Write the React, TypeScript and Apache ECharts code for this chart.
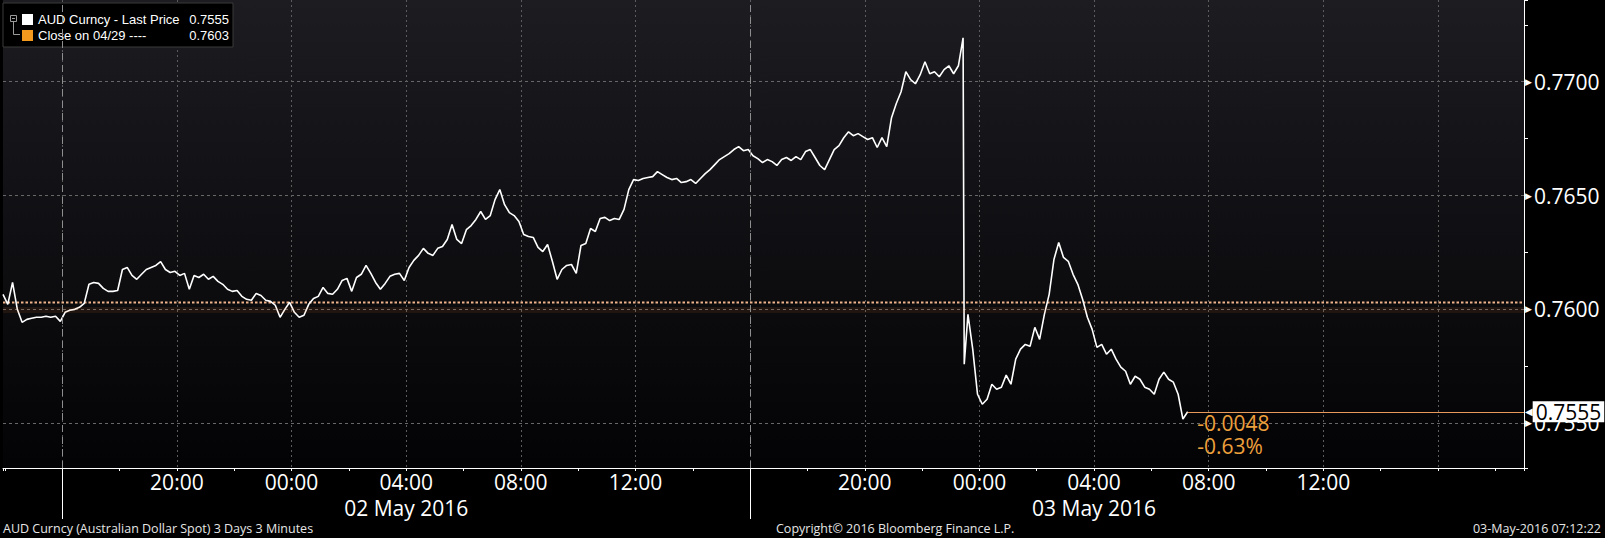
import React, { useEffect, useRef } from 'react';
import * as echarts from 'echarts';

const FONT = "'Open Sans', 'DejaVu Sans', sans-serif";

const seriesName = 'AUD Curncy - Last Price';
const closeName = 'Close on 04/29 ----';
const closePrice = 0.7603;
const lastPrice = 0.7555;
const netChangeText = '-0.0048';
const pctChangeText = '-0.63%';

// time = hours since 01 May 2016 00:00 (chart local time)
const xMinHour = 13 + 56 / 60;
const xMaxHour = 67;
const sampleStepHours = 10 / 60;

const preDropStartHour = 13 + 56 / 60;
const preDropPrices = [
  0.76066, 0.76022, 0.76118, 0.76000, 0.75943, 0.75956, 0.75961, 0.75965, 0.75965, 0.75970,
  0.75965, 0.75970, 0.75947, 0.75987, 0.75996, 0.76000, 0.76009, 0.76026, 0.76110, 0.76118,
  0.76114, 0.76092, 0.76079, 0.76079, 0.76083, 0.76175, 0.76184, 0.76149, 0.76132, 0.76154,
  0.76175, 0.76184, 0.76193, 0.76210, 0.76175, 0.76162, 0.76167, 0.76149, 0.76158, 0.76088,
  0.76149, 0.76140, 0.76154, 0.76132, 0.76145, 0.76123, 0.76110, 0.76088, 0.76079, 0.76083,
  0.76057, 0.76044, 0.76040, 0.76070, 0.76061, 0.76040, 0.76035, 0.76018, 0.75965, 0.76000,
  0.76031, 0.75987, 0.75965, 0.75974,
  0.76022, 0.76048, 0.76057, 0.76096, 0.76070, 0.76066, 0.76088, 0.76127, 0.76136, 0.76079,
  0.76140, 0.76154, 0.76193, 0.76158, 0.76118, 0.76088, 0.76114, 0.76145, 0.76154, 0.76158,
  0.76127, 0.76184, 0.76215, 0.76237, 0.76268, 0.76246, 0.76237, 0.76268, 0.76276, 0.76307,
  0.76373, 0.76307, 0.76289, 0.76350, 0.76368, 0.76395, 0.76430, 0.76395, 0.76412, 0.76482,
  0.76526, 0.76460, 0.76425, 0.76412, 0.76386, 0.76329, 0.76320, 0.76316, 0.76272, 0.76254,
  0.76285, 0.76211, 0.76132, 0.76175, 0.76193, 0.76197, 0.76158, 0.76281, 0.76289, 0.76355,
  0.76342, 0.76399, 0.76404, 0.76390, 0.76399, 0.76395, 0.76439, 0.76526, 0.76570, 0.76566,
  0.76575, 0.76579,
  0.76583, 0.76605, 0.76592, 0.76579, 0.76570, 0.76575, 0.76557, 0.76561, 0.76570, 0.76553,
  0.76575, 0.76596, 0.76614, 0.76636, 0.76658, 0.76671, 0.76684, 0.76702, 0.76715, 0.76697,
  0.76702, 0.76675, 0.76662, 0.76645, 0.76658, 0.76649, 0.76632, 0.76658, 0.76667, 0.76654,
  0.76671, 0.76658, 0.76693, 0.76702, 0.76667, 0.76632, 0.76614, 0.76658, 0.76702, 0.76719,
  0.76754, 0.76780,
  0.76763, 0.76772, 0.76759, 0.76746, 0.76754, 0.76711, 0.76754, 0.76715, 0.76842, 0.76904,
  0.76956, 0.77044, 0.77009, 0.76991, 0.77031, 0.77088, 0.77035, 0.77044, 0.77022, 0.77053,
  0.77070, 0.77035, 0.77070,
];
const rbaDecisionBars = [
  [47.43, 0.77193],
  [47.47, 0.75759],
];
const postDropStartHour = 47.6;
const postDropPrices = [
  0.75978, 0.75825, 0.75627, 0.75583, 0.75605, 0.75671, 0.75649, 0.75658, 0.75711, 0.75671,
  0.75781, 0.75825, 0.75846, 0.75838, 0.75921, 0.75868, 0.75978, 0.76066, 0.76219, 0.76294,
  0.76228, 0.76211, 0.76154, 0.76110, 0.76044, 0.75965, 0.75912, 0.75833, 0.75846, 0.75803,
  0.75825, 0.75781, 0.75746, 0.75728, 0.75671, 0.75706, 0.75693, 0.75658, 0.75649, 0.75627,
  0.75693, 0.75724, 0.75693, 0.75680, 0.75627, 0.75518, 0.75550,
];

const timeLabelHours = [0, 4, 8, 12, 20];
const daySeparatorHours = [16, 40];
const dayLabelHours = [28, 52];
const dayLabelTexts = ['02 May 2016', '03 May 2016'];

const yMin = 0.75303;
const yMax = 0.77359;
const yMajorStep = 0.005;
const yMinorStep = 0.0025;
const xTickStepHours = 2;
const xGridStepHours = 4;

const footerLeft = 'AUD Curncy (Australian Dollar Spot) 3 Days 3 Minutes';
const footerCenter = 'Copyright\u00A9 2016 Bloomberg Finance L.P.';
const footerRight = '03-May-2016 07:12:22';

const isMultiple = (v: number, step: number) => Math.abs(v / step - Math.round(v / step)) < 1e-6;
const pad2 = (n: number) => (n < 10 ? '0' + n : '' + n);

function buildOption() {
  const pricePoints: number[][] = [
    ...preDropPrices.map((p, i) => [preDropStartHour + i * sampleStepHours, p]),
    ...rbaDecisionBars,
    ...postDropPrices.map((p, i) => [postDropStartHour + i * sampleStepHours, p]),
  ];
  const lastPoint = pricePoints[pricePoints.length - 1];

  const xBase = { type: 'value', min: xMinHour, max: xMaxHour, position: 'bottom', gridIndex: 0 };
  const white = '#ffffff';
  const footerStyle = { color: '#e6e6e6', fontSize: 12.5, fontWeight: 'normal', fontFamily: FONT };

  return {
    animation: false,
    backgroundColor: '#000000',
    textStyle: { fontFamily: FONT },
    title: [
      { text: footerLeft, left: 3, top: 522, padding: 0, textStyle: footerStyle },
      { text: footerCenter, left: 776, top: 522, padding: 0, textStyle: footerStyle },
      { text: footerRight, right: 4, top: 522, padding: 0, textStyle: footerStyle },
    ],
    legend: {
      left: 3,
      top: 3,
      orient: 'vertical',
      padding: [10, 4, 5, 19],
      itemGap: 3,
      itemWidth: 11,
      itemHeight: 11,
      icon: 'rect',
      backgroundColor: '#000000',
      borderColor: '#3a3a3a',
      borderWidth: 1,
      selectedMode: false,
      data: [seriesName, closeName],
      formatter: (name: string) =>
        `{n|${name}}{v|${(name === seriesName ? lastPrice : closePrice).toFixed(4)}}`,
      textStyle: {
        color: white,
        fontSize: 13,
        fontFamily: 'Liberation Sans',
        rich: {
          n: { width: 150, fontSize: 13, color: white, fontFamily: 'Liberation Sans' },
          v: { width: 41, align: 'right', fontSize: 13, color: white, fontFamily: 'Liberation Sans' },
        },
      },
    },
    grid: {
      left: 0,
      top: 0,
      right: 81,
      bottom: 70,
      show: true,
      borderWidth: 0,
      backgroundColor: new echarts.graphic.LinearGradient(0, 0, 0, 1, [
        { offset: 0, color: '#1c1c21' },
        { offset: 1, color: '#030305' },
      ]),
    },
    xAxis: [
      {
        ...xBase,
        minInterval: xTickStepHours,
        maxInterval: xTickStepHours,
        splitNumber: 26,
        axisLine: { show: true, onZero: false, lineStyle: { color: white, width: 1 } },
        axisTick: { show: true, length: 3, lineStyle: { color: white } },
        axisLabel: {
          show: true,
          margin: 4,
          color: white,
          fontSize: 21,
          lineHeight: 20,
          fontFamily: FONT,
          formatter: (v: number) => {
            if (!isMultiple(v, 1)) return '';
            const h = Math.round(v) % 24;
            return timeLabelHours.indexOf(h) >= 0 ? pad2(h) + ':00' : '';
          },
        },
        splitLine: { show: false },
      },
      {
        ...xBase,
        minInterval: xGridStepHours,
        maxInterval: xGridStepHours,
        splitNumber: 13,
        axisLine: { show: false, onZero: false },
        axisTick: { show: false },
        axisLabel: {
          show: true,
          margin: 30,
          color: white,
          fontSize: 21,
          lineHeight: 20,
          fontFamily: FONT,
          formatter: (v: number) => {
            for (let i = 0; i < dayLabelHours.length; i++) {
              if (Math.abs(v - dayLabelHours[i]) < 1e-6) return dayLabelTexts[i];
            }
            return '';
          },
        },
        splitLine: {
          show: true,
          showMinLine: false,
          showMaxLine: false,
          lineStyle: { color: '#5c5c5c', type: [2, 3], width: 1 },
        },
      },
      {
        ...xBase,
        axisLine: { show: false, onZero: false },
        axisTick: { show: true, customValues: daySeparatorHours, length: 51, lineStyle: { color: white } },
        axisLabel: { show: false },
        splitLine: { show: false },
      },
    ],
    yAxis: [
      {
        type: 'value',
        position: 'right',
        min: yMin,
        max: yMax,
        minInterval: yMajorStep,
        maxInterval: yMajorStep,
        splitNumber: 4,
        axisLine: { show: true, lineStyle: { color: white, width: 1 } },
        axisTick: { show: false },
        axisLabel: {
          show: true,
          margin: 1,
          color: white,
          formatter: (v: number) => (isMultiple(v, yMajorStep) ? `{t|\u25B6}{v|${v.toFixed(4)}}` : ''),
          rich: {
            t: { fontSize: 9, color: white, fontFamily: 'DejaVu Sans', padding: [0, 2, 0, 0] },
            v: { fontSize: 21, color: white, fontFamily: FONT },
          },
        },
        splitLine: {
          show: true,
          showMinLine: false,
          showMaxLine: false,
          lineStyle: { color: '#676767', type: [3, 3], width: 1 },
        },
      },
      {
        type: 'value',
        position: 'right',
        min: yMin,
        max: yMax,
        minInterval: yMinorStep,
        maxInterval: yMinorStep,
        splitNumber: 8,
        axisLine: { show: false },
        axisTick: { show: true, length: 4, lineStyle: { color: white } },
        axisLabel: { show: false },
        splitLine: { show: false },
      },
    ],
    graphic: [
      { type: 'rect', z: 100, shape: { x: 10.5, y: 15.5, width: 6, height: 6 }, style: { fill: 'none', stroke: '#9a9a9a', lineWidth: 1 } },
      { type: 'line', z: 100, shape: { x1: 12, y1: 18.5, x2: 15, y2: 18.5 }, style: { stroke: '#9a9a9a', lineWidth: 1 } },
      { type: 'polyline', z: 100, shape: { points: [[13.5, 22], [13.5, 34.5], [20, 34.5]] }, style: { stroke: '#9a9a9a', fill: 'none', lineWidth: 1 } },
    ],
    series: [
      {
        name: closeName,
        type: 'line',
        xAxisIndex: 0,
        yAxisIndex: 0,
        data: [
          [xMinHour, closePrice],
          [xMaxHour, closePrice],
        ],
        symbol: 'none',
        silent: true,
        z: 2,
        itemStyle: { color: '#f39a1e' },
        lineStyle: { color: '#f0b48c', width: 2, type: [2.5, 2] },
        markLine: {
          silent: true,
          symbol: 'none',
          label: { show: false },
          lineStyle: { color: 'rgba(255,120,40,0.09)', width: 6, type: 'solid' },
          data: [{ yAxis: closePrice }],
        },
      },
      {
        name: seriesName,
        type: 'line',
        xAxisIndex: 0,
        yAxisIndex: 0,
        data: pricePoints,
        symbol: 'none',
        showSymbol: false,
        silent: true,
        z: 3,
        itemStyle: { color: white },
        lineStyle: { color: white, width: 1.6 },
        markLine: {
          silent: true,
          symbol: 'none',
          label: { show: false },
          data: [
            ...daySeparatorHours.map((h) => ({
              xAxis: h,
              lineStyle: { color: '#8e8e8e', type: [7, 5], width: 1 },
            })),
            [
              {
                coord: lastPoint,
                lineStyle: { color: '#e89a5a', width: 1, type: 'solid' },
                label: {
                  show: true,
                  position: 'end',
                  distance: 1,
                  formatter: `{a|\u25C0}{b|${lastPrice.toFixed(4)}}`,
                  rich: {
                    a: { fontSize: 10, color: white, fontFamily: 'DejaVu Sans', padding: [0, 0, 0, 0] },
                    b: {
                      fontSize: 21,
                      color: '#000000',
                      fontFamily: FONT,
                      backgroundColor: white,
                      padding: [0, 3, 0, 3],
                    },
                  },
                },
              },
              { coord: [xMaxHour, lastPrice] },
            ],
          ],
        },
        markPoint: {
          silent: true,
          data: [
            {
              coord: lastPoint,
              symbol: 'rect',
              symbolSize: 1,
              itemStyle: { color: 'rgba(0,0,0,0)' },
              label: {
                show: true,
                position: [10, 0],
                align: 'left',
                verticalAlign: 'top',
                formatter: `${netChangeText}\n${pctChangeText}`,
                color: '#eea03c',
                fontSize: 21,
                lineHeight: 23,
                fontFamily: FONT,
              },
            },
          ],
        },
      },
    ],
  };
}

export default function App() {
  const ref = useRef<HTMLDivElement>(null);
  useEffect(() => {
    if (!ref.current) return;
    const chart = echarts.init(ref.current, undefined, { renderer: 'svg' });
    chart.setOption(buildOption() as any);
    return () => {
      chart.dispose();
    };
  }, []);
  return (
    <div
      ref={ref}
      style={{ position: 'absolute', left: 0, top: 0, width: '1605px', height: '538px', background: '#000' }}
    />
  );
}
